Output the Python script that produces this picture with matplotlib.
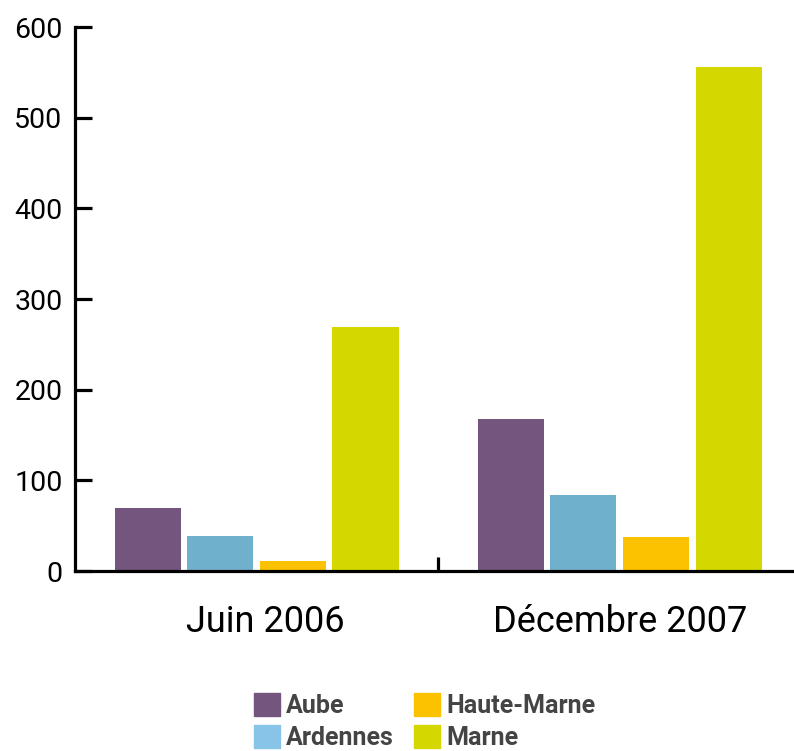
import numpy as np
import matplotlib.pyplot as plt
import matplotlib.transforms as mtransforms
from matplotlib.patches import Patch

plt.rcParams['font.family'] = ['Roboto', 'DejaVu Sans']

periodes = ['Juin 2006', 'Décembre 2007']
departements = ['Aube', 'Ardennes', 'Haute-Marne', 'Marne']
aube = [70, 168]
ardennes = [39, 84]
haute_marne = [11, 37]
marne = [269, 556]
valeurs = [aube, ardennes, haute_marne, marne]
y_ticks = [0, 100, 200, 300, 400, 500, 600]

couleurs = ['#73557d', '#6fb0cd', '#fcc200', '#d4d800']
couleurs_legende = ['#73557d', '#87c4e8', '#fcc200', '#d4d800']

fig = plt.figure(figsize=(7.94, 7.51), dpi=100)
ax = fig.add_axes([75 / 794, 180 / 751, 719 / 794, 544 / 751])

x = np.arange(len(periodes))
for i, (serie, c) in enumerate(zip(valeurs, couleurs)):
    ax.bar(x + (i - 1.5) * 0.2, serie, width=0.182, color=c, zorder=2)

ax.set_xlim(-0.5, 1.48)
ax.set_ylim(0, 600)

for s in ['top', 'right']:
    ax.spines[s].set_visible(False)
for s in ['left', 'bottom']:
    ax.spines[s].set_linewidth(2.3)
    ax.spines[s].set_capstyle('projecting')

ax.set_yticks(y_ticks)
ax.tick_params(axis='y', direction='in', length=12.5, width=2.3, pad=9,
               labelsize=20.5, colors='black')
ax.set_xticks(x)
ax.set_xticklabels(periodes)
ax.tick_params(axis='x', which='major', length=0, pad=24, labelsize=26)
ax.set_xticks([0.5], minor=True)
ax.tick_params(axis='x', which='minor', direction='in', length=10, width=2.3)
# "Juin 2006" sits a bit right of its group in the reference
lab = ax.get_xticklabels()[0]
lab.set_transform(lab.get_transform() +
                  mtransforms.ScaledTranslation(9 / 100, 0, fig.dpi_scale_trans))

handles = [Patch(color=c, label=d) for c, d in zip(couleurs_legende, departements)]
leg = fig.legend(handles=handles, ncol=2, loc='upper left',
                 bbox_to_anchor=(241 / 794, 1 - 680 / 751), frameon=False,
                 borderpad=0, handlelength=1.04, handleheight=1.04,
                 handletextpad=0.26, columnspacing=0.8, labelspacing=0.3,
                 prop={'size': 18, 'weight': 'bold'})
for t in leg.get_texts():
    t.set_color('#444444')

fig.savefig('out.png', dpi=100)
